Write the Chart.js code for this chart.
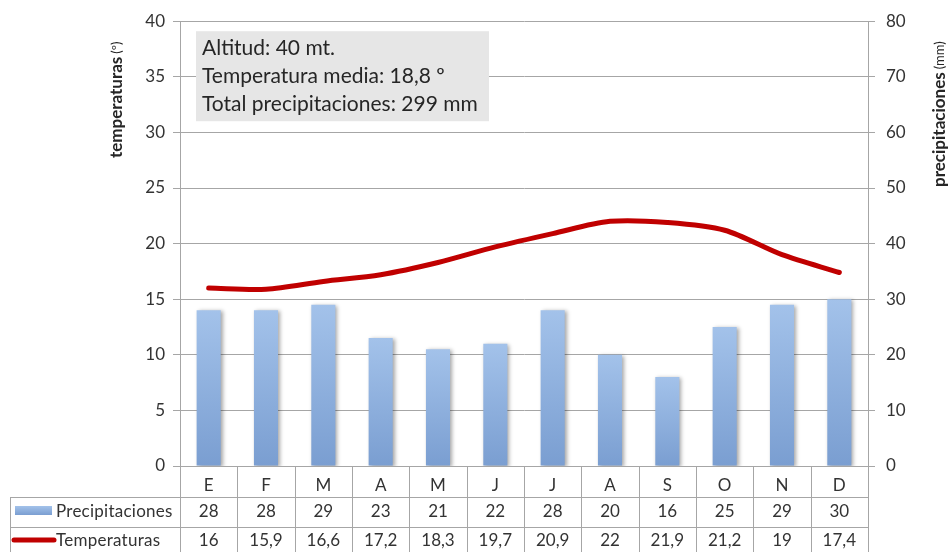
<!DOCTYPE html>
<html>
<head>
<meta charset="utf-8">
<style>
  html, body { margin: 0; padding: 0; background: #fff; }
  canvas { display: block; }
</style>
</head>
<body>
<canvas id="Grafica" width="948" height="552"></canvas>
<script src="https://cdn.jsdelivr.net/npm/chart.js"></script>
<script>
const meses = ['E', 'F', 'M', 'A', 'M', 'J', 'J', 'A', 'S', 'O', 'N', 'D'];
const precipitaciones = [28, 28, 29, 23, 21, 22, 28, 20, 16, 25, 29, 30];
const temperaturas = [16, 15.9, 16.6, 17.2, 18.3, 19.7, 20.9, 22, 21.9, 21.2, 19, 17.4];
const infoLineas = ['Altitud: 40 mt.', 'Temperatura media: 18,8 º', 'Total precipitaciones: 299 mm'];

const FUENTE = 'Lato, "Open Sans", sans-serif';
const TEXTO = '#333333';
const LINEAS = '#a6a6a6';

const fmt = v => String(v).replace('.', ',');

// degradado de cada barra (claro arriba, oscuro abajo)
function colorBarra(ctx) {
  const chart = ctx.chart;
  const s = chart.scales.y1;
  if (!s || ctx.raw == null) return '#8fb0dd';
  const top = s.getPixelForValue(ctx.raw);
  const bottom = s.getPixelForValue(0);
  if (!isFinite(top) || !isFinite(bottom) || top === bottom) return '#8fb0dd';
  const g = chart.ctx.createLinearGradient(0, top, 0, bottom);
  g.addColorStop(0, '#a3c2ea');
  g.addColorStop(1, '#7a9ed1');
  return g;
}

// sombra suave de las barras
const sombra = {
  id: 'sombra',
  beforeDatasetDraw(chart, args) {
    if (args.meta.type !== 'bar') return;
    const c = chart.ctx;
    c.save();
    c.shadowColor = 'rgba(0,0,0,0.35)';
    c.shadowBlur = 4;
    c.shadowOffsetX = 2;
    c.shadowOffsetY = 1;
  },
  afterDatasetDraw(chart, args) {
    if (args.meta.type !== 'bar') return;
    chart.ctx.restore();
  }
};

// tabla de datos, cuadro de info y titulos de ejes
const extras = {
  id: 'extras',
  afterDraw(chart) {
    const c = chart.ctx;
    const a = chart.chartArea;
    const x = chart.scales.x;
    const w = (a.right - a.left) / meses.length;
    const filaMes = a.bottom + 31;
    const fila2 = filaMes + 30;
    const fin = chart.height;
    const izq = 10;

    c.save();
    c.strokeStyle = LINEAS;
    c.lineWidth = 1;
    c.beginPath();
    for (let i = 0; i <= meses.length; i++) {
      const px = Math.round(a.left + i * w) + 0.5;
      c.moveTo(px, a.bottom);
      c.lineTo(px, fin);
    }
    c.moveTo(izq + 0.5, filaMes);
    c.lineTo(izq + 0.5, fin);
    c.moveTo(izq, filaMes + 0.5);
    c.lineTo(a.right, filaMes + 0.5);
    c.moveTo(izq, fila2 + 0.5);
    c.lineTo(a.right, fila2 + 0.5);
    c.stroke();

    // valores
    c.fillStyle = TEXTO;
    c.font = '17px ' + FUENTE;
    c.textAlign = 'center';
    c.textBaseline = 'middle';
    meses.forEach((m, i) => {
      const px = x.getPixelForValue(i);
      c.fillText(fmt(precipitaciones[i]), px, filaMes + 15);
      c.fillText(fmt(temperaturas[i]), px, fila2 + 14);
    });

    // leyenda
    const gl = c.createLinearGradient(0, filaMes + 9, 0, filaMes + 18);
    gl.addColorStop(0, '#a3c2ea');
    gl.addColorStop(1, '#7a9ed1');
    c.fillStyle = gl;
    c.fillRect(15, filaMes + 9, 37, 9);
    c.strokeStyle = '#c00000';
    c.lineWidth = 5;
    c.lineCap = 'round';
    c.beginPath();
    c.moveTo(14, fila2 + 13);
    c.lineTo(54, fila2 + 13);
    c.stroke();
    c.fillStyle = TEXTO;
    c.textAlign = 'left';
    c.font = '17px ' + FUENTE;
    c.letterSpacing = '0.25px';
    c.fillText('Precipitaciones', 56, filaMes + 15);
    c.fillText('Temperaturas', 56, fila2 + 14);
    c.letterSpacing = '0px';

    // cuadro de informacion
    c.fillStyle = '#e6e6e6';
    c.fillRect(a.left + 16, a.top + 10, 293, 90);
    c.fillStyle = '#262626';
    c.font = '21px ' + FUENTE;
    infoLineas.forEach((t, i) => c.fillText(t, a.left + 22, a.top + 27 + i * 28));

    // titulos de ejes
    const titulo = (negrita, resto, cx, cy) => {
      c.save();
      c.translate(cx, cy);
      c.rotate(-Math.PI / 2);
      c.textAlign = 'left';
      c.textBaseline = 'middle';
      c.fillStyle = '#262626';
      c.font = 'bold 17px ' + FUENTE;
      c.fillText(negrita, 0, 0);
      const ancho = c.measureText(negrita).width;
      c.font = '13px ' + FUENTE;
      c.fillText(resto, ancho + 3, 0);
      c.restore();
    };
    titulo('temperaturas', '(º)', 117, 158);
    titulo('precipitaciones', '(mm)', 940, 187);
    c.restore();
  }
};

new Chart(document.getElementById('Grafica'), {
  type: 'bar',
  data: {
    labels: meses,
    datasets: [
      {
        type: 'line',
        label: 'Temperaturas',
        data: temperaturas,
        yAxisID: 'y',
        borderColor: '#c00000',
        borderWidth: 5,
        borderCapStyle: 'round',
        pointRadius: 0,
        tension: 0.3,
        order: 0
      },
      {
        type: 'bar',
        label: 'Precipitaciones',
        data: precipitaciones,
        yAxisID: 'y1',
        backgroundColor: colorBarra,
        barPercentage: 0.42,
        categoryPercentage: 1,
        order: 1
      }
    ]
  },
  options: {
    responsive: false,
    animation: false,
    devicePixelRatio: 1,
    layout: { padding: { top: 19, bottom: 55, left: 0, right: 0 } },
    plugins: { legend: { display: false }, tooltip: { enabled: false } },
    scales: {
      x: {
        grid: { display: false },
        border: { display: false },
        ticks: { color: TEXTO, font: { family: FUENTE, size: 17 }, padding: 1 },
        afterFit: s => { s.height = 31; }
      },
      y: {
        position: 'left',
        min: 0,
        max: 40,
        ticks: { stepSize: 5, color: TEXTO, font: { family: FUENTE, size: 17 }, padding: 8 },
        grid: { color: LINEAS, tickLength: 7 },
        border: { color: LINEAS },
        afterFit: s => { s.width = 180; }
      },
      y1: {
        position: 'right',
        min: 0,
        max: 80,
        ticks: { stepSize: 10, color: TEXTO, font: { family: FUENTE, size: 17 }, padding: 11 },
        grid: { drawOnChartArea: false, color: LINEAS, tickLength: 7 },
        border: { color: LINEAS },
        afterFit: s => { s.width = 80; }
      }
    }
  },
  plugins: [sombra, extras]
});
</script>
</body>
</html>
